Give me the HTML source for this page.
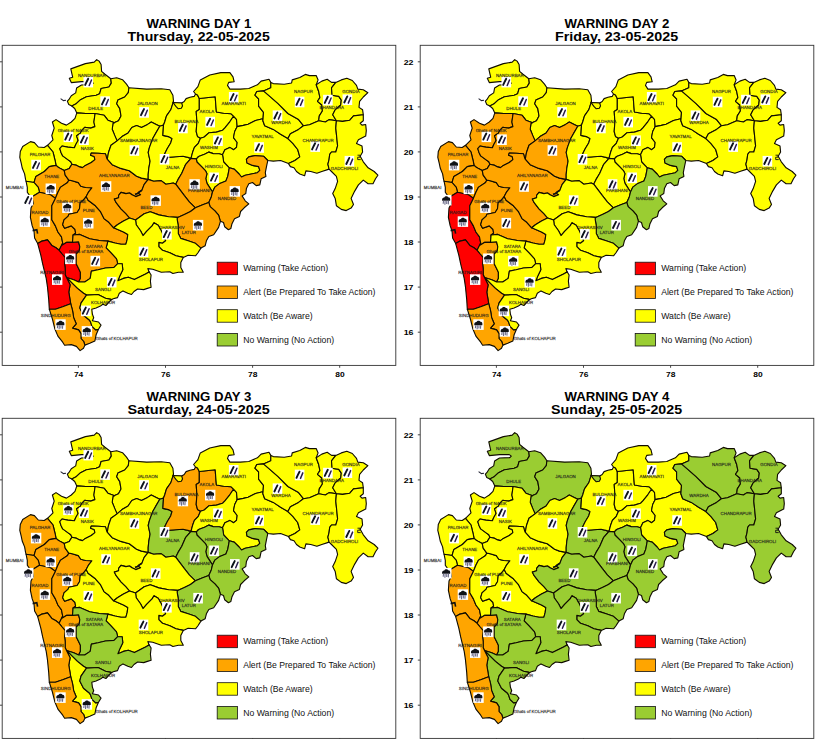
<!DOCTYPE html>
<html><head><meta charset="utf-8"><title>Warnings</title>
<style>
html,body{margin:0;padding:0;background:#fff;}
body{width:819px;height:739px;overflow:hidden;font-family:"Liberation Sans",sans-serif;}
svg{display:block;}
text{font-family:"Liberation Sans",sans-serif;}
.t{font-weight:bold;font-size:12.3px;fill:#000;text-anchor:middle;}
.tk{font-weight:bold;font-size:7.4px;fill:#000;}
.lg{font-size:8.3px;fill:#111;}
.lb{text-rendering:geometricPrecision;font-size:4.4px;fill:#1c1c1c;fill-opacity:.9;stroke:#1c1c1c;stroke-width:.28;stroke-opacity:.6;text-anchor:middle;}
.d{stroke:#100c00;stroke-width:1.12;stroke-linejoin:round;}
.ax{fill:none;stroke:#333;stroke-width:.9;}
</style></head><body>
<svg width="819" height="739" viewBox="0 0 819 739">
<defs>
<path id="NDB" d="M71.8,106.0 68.8,104.6 67.4,101.2 68.8,99.7 71.3,95.8 75.7,92.9 76.6,88.0 81.5,85.0 91.8,84.6 93.3,83.1 91.3,81.6 81.5,81.6 71.3,82.6 69.3,78.2 72.7,77.2 71.8,73.3 70.8,68.9 85.4,63.6 94.2,62.1 96.7,59.6 99.1,61.1 101.1,64.5 101.6,71.4 105.0,74.3 110.8,78.7 111.3,83.1 108.9,87.0 101.1,88.5 99.6,93.8 96.2,95.3 86.4,96.8 80.6,99.7 75.7,104.1Z"/>
<path id="DHL" d="M71.8,106.0 75.7,104.1 80.6,99.7 86.4,96.8 96.2,95.3 99.6,93.8 101.1,88.5 108.9,87.0 111.3,83.1 110.8,78.7 116.7,77.7 122.5,79.7 126.5,84.1 128.9,87.8 128.3,92.7 124.7,97.0 117.9,100.1 116.7,103.7 119.8,108.6 121.0,115.9 118.5,120.8 113.0,123.3 114.6,122.7 107.9,120.2 104.2,115.3 95.1,113.5 85.9,113.5 76.8,112.9 74.7,108.5Z"/>
<path id="JLG" d="M128.9,87.8 146.6,89.1 161.3,88.8 169.8,89.7 172.9,95.2 173.5,101.3 170.8,109.8 166.5,115.9 164.7,122.0 163.5,125.0 159.8,126.2 156.2,124.4 151.3,122.0 147.6,124.4 141.5,127.5 136.6,125.6 131.8,127.5 128.1,133.0 122.0,136.6 117.1,140.9 114.7,135.4 112.2,129.3 113.0,123.3 118.5,120.8 121.0,115.9 119.8,108.6 116.7,103.7 117.9,100.1 124.7,97.0 128.3,92.7Z"/>
<path id="GNSK" d="M47.5,145.3 53.0,139.8 51.8,135.5 54.2,128.1 52.4,122.0 56.0,119.6 61.5,123.3 66.4,125.1 71.3,122.0 75.0,118.4 76.8,112.9 85.9,113.5 95.1,113.5 93.9,122.0 94.9,126.6 90.5,128.1 84.7,127.3 81.8,130.3 80.3,133.2 76.6,135.8 78.1,140.5 75.9,144.2 74.4,147.8 67.8,147.1 62.0,146.0 59.8,148.6 60.9,152.2 62.7,155.9 67.8,159.6 70.8,161.8 71.9,164.3 69.3,168.4 64.2,170.4 60.5,168.6 58.3,167.2 56.0,165.4 55.4,161.8 53.0,152.0Z"/>
<path id="NSK" d="M95.1,113.5 104.2,115.3 107.9,120.2 114.6,122.7 113.0,123.3 112.2,129.3 114.7,135.4 117.1,140.9 111.0,145.2 108.5,152.5 107.3,159.2 106.7,158.1 105.5,153.8 98.1,153.2 91.3,153.0 90.5,155.2 94.2,156.6 94.9,159.6 91.3,162.5 85.4,165.4 82.5,167.6 79.6,166.9 75.9,165.1 71.9,164.3 70.8,161.8 67.8,159.6 62.7,155.9 60.9,152.2 59.8,148.6 62.0,146.0 67.8,147.1 74.4,147.8 75.9,144.2 78.1,140.5 76.6,135.8 80.3,133.2 81.8,130.3 84.7,127.3 90.5,128.1 94.9,126.6 93.9,122.0Z"/>
<path id="PLG" d="M26.1,181.3 25.6,179.7 24.6,173.9 22.2,168.0 21.2,163.1 19.8,157.3 20.3,151.4 22.7,146.5 30.5,141.6 34.4,142.6 38.3,147.0 44.2,147.5 47.5,145.3 53.0,152.0 55.4,161.8 56.0,165.4 49.3,166.6 44.4,171.5 35.9,176.4 34.0,182.5Z"/>
<path id="THN" d="M34.0,182.5 35.9,176.4 44.4,171.5 49.3,166.6 56.0,165.4 58.3,167.2 60.5,168.6 64.2,170.4 65.2,175.2 68.8,180.1 67.6,182.5 60.3,187.4 57.9,192.3 55.4,198.4 50.5,194.7 39.5,192.3 38.3,187.4Z"/>
<path id="MUM" d="M31.6,196.5 29.8,195.9 27.3,192.3 27.3,187.4 26.1,181.3 34.0,182.5 38.3,187.4 39.5,192.3 33.4,195.9Z"/>
<path id="RGD" d="M37.7,243.6 34.6,238.1 34.0,230.8 32.2,225.9 30.4,217.3 31.0,208.1 33.4,203.3 32.2,198.4 31.6,196.5 33.4,195.9 39.5,192.3 50.5,194.7 55.4,198.4 51.8,205.7 51.8,219.8 55.4,225.9 57.9,232.0 61.5,236.9 62.7,243.0 61.5,245.4 59.1,250.3 56.0,247.8 51.8,245.4 47.5,239.9 42.0,241.1Z"/>
<path id="GPUN" d="M55.4,198.4 57.9,192.3 60.3,187.4 67.6,182.5 68.8,180.1 72.2,180.8 78.3,182.6 80.8,186.2 85.6,187.5 91.8,187.8 88.7,191.8 86.2,196.6 83.2,200.3 80.2,202.7 79.5,208.8 77.1,212.5 68.8,214.2 68.2,216.1 64.0,219.8 62.7,224.7 64.6,228.3 71.3,225.9 75.0,229.5 75.6,233.2 73.1,235.0 72.5,242.4 66.4,242.4 61.5,245.4 62.7,243.0 61.5,236.9 57.9,232.0 55.4,225.9 51.8,219.8 51.8,205.7Z"/>
<path id="PUN" d="M73.1,235.0 75.6,233.2 75.0,229.5 71.3,225.9 64.6,228.3 62.7,224.7 64.0,219.8 68.2,216.1 68.8,214.2 77.1,212.5 79.5,208.8 80.2,202.7 83.2,200.3 86.2,196.6 88.1,200.3 95.4,205.8 100.3,211.3 104.0,218.6 108.8,222.3 113.7,227.8 123.5,232.0 127.8,234.5 127.2,239.4 125.9,244.2 121.0,244.2 115.0,243.0 107.9,241.1 99.4,240.5 89.6,238.7 79.8,234.4Z"/>
<path id="AHM" d="M64.2,170.4 69.3,168.4 71.9,164.3 75.9,165.1 79.6,166.9 82.5,167.6 85.4,165.4 91.3,162.5 94.9,159.6 94.2,156.6 90.5,155.2 91.3,153.0 98.1,153.2 105.5,153.8 106.7,158.1 107.3,159.2 112.2,164.7 120.8,168.4 129.3,170.8 136.6,176.3 141.5,178.1 148.2,179.4 144.2,184.4 141.8,190.5 138.1,193.0 140.6,194.8 135.7,196.6 132.0,194.8 129.6,193.0 125.9,193.6 121.0,192.4 118.6,195.4 118.6,197.8 114.3,199.1 116.2,202.7 121.0,208.8 125.9,213.7 129.6,218.0 123.5,221.1 117.4,224.7 113.7,227.8 108.8,222.3 104.0,218.6 100.3,211.3 95.4,205.8 88.1,200.3 86.2,196.6 88.7,191.8 91.8,187.8 85.6,187.5 80.8,186.2 78.3,182.6 72.2,180.8 68.8,180.1 65.2,175.2Z"/>
<path id="SMB" d="M107.3,159.2 108.5,152.5 111.0,145.2 117.1,140.9 122.0,136.6 128.1,133.0 131.8,127.5 136.6,125.6 141.5,127.5 147.6,124.4 151.3,122.0 156.2,124.4 159.8,126.2 156.2,132.4 152.5,139.1 149.4,147.6 148.2,152.5 150.1,161.1 148.8,168.4 148.2,174.5 148.2,179.4 141.5,178.1 136.6,176.3 129.3,170.8 120.8,168.4 112.2,164.7Z"/>
<path id="JLN" d="M148.2,179.4 148.2,174.5 148.8,168.4 150.1,161.1 148.2,152.5 149.4,147.6 152.5,139.1 156.2,132.4 159.8,126.2 163.5,125.0 162.9,135.4 168.4,136.6 172.0,138.5 170.8,142.7 167.2,148.8 164.7,153.7 168.4,157.4 175.7,156.8 183.0,156.2 187.9,157.4 191.0,158.4 185.5,164.7 181.8,173.3 178.1,179.4 175.7,184.2 173.3,183.0 165.9,184.2 161.1,180.6 153.7,181.2Z"/>
<path id="BLD" d="M173.5,101.3 173.0,102.5 177.4,102.8 181.7,103.0 184.2,101.5 186.1,98.6 190.0,97.3 194.2,96.4 195.5,94.0 197.5,94.9 199.3,98.5 199.3,109.5 196.2,111.4 196.9,121.8 196.2,131.5 197.5,136.4 200.5,138.2 198.1,143.7 194.4,147.4 192.6,152.3 191.0,158.4 187.9,157.4 183.0,156.2 175.7,156.8 168.4,157.4 164.7,153.7 167.2,148.8 170.8,142.7 172.0,138.5 168.4,136.6 162.9,135.4 163.5,125.0 164.7,122.0 166.5,115.9 170.8,109.8Z"/>
<path id="AKL" d="M200.5,138.2 197.5,136.4 196.2,131.5 196.9,121.8 196.2,111.4 199.3,109.5 199.3,98.5 215.2,96.7 215.8,104.7 216.4,112.0 223.7,113.2 231.1,113.8 233.5,116.2 229.8,121.8 224.9,127.8 222.5,130.3 216.4,132.1 209.1,132.7 204.2,137.0Z"/>
<path id="WSM" d="M200.5,138.2 204.2,137.0 209.1,132.7 216.4,132.1 222.5,130.3 224.9,127.8 229.8,121.8 233.5,116.2 236.5,119.3 237.2,126.6 234.7,131.5 233.5,137.6 237.2,142.5 236.5,147.4 233.5,149.8 229.8,147.4 224.9,149.8 222.5,154.7 219.1,153.8 213.3,153.6 208.9,152.1 204.5,154.3 198.6,156.5 196.4,158.9 191.0,158.4 192.6,152.3 194.4,147.4 198.1,143.7Z"/>
<path id="AMR" d="M195.5,94.0 193.6,91.5 197.9,86.6 200.3,79.9 209.8,75.0 220.8,72.6 229.9,72.6 233.0,76.9 234.2,81.8 228.7,82.4 227.5,85.4 229.9,89.1 240.3,89.1 248.8,88.5 257.4,84.8 261.1,81.1 269.0,79.3 270.8,82.4 270.8,87.8 263.5,90.9 256.8,91.5 254.9,95.2 258.6,98.8 258.6,106.2 263.5,112.3 262.9,120.8 262.8,118.7 255.5,120.5 248.1,124.2 243.3,125.4 237.2,126.6 236.5,119.3 233.5,116.2 231.1,113.8 223.7,113.2 216.4,112.0 215.8,104.7 215.2,96.7 199.3,98.5 197.5,94.9Z"/>
<path id="YVT" d="M237.2,126.6 243.3,125.4 248.1,124.2 255.5,120.5 262.8,118.7 262.9,120.8 264.7,125.7 273.3,129.4 280.6,134.2 287.9,138.6 292.8,143.4 297.7,149.5 299.8,156.9 294.9,160.5 288.5,163.6 280.6,160.5 273.3,161.1 267.8,160.5 263.5,156.2 254.9,155.6 248.8,156.9 246.4,159.3 247.0,163.0 252.5,165.4 258.6,166.6 259.8,170.3 257.4,172.7 251.3,174.0 245.2,175.2 241.5,177.0 239.1,174.0 234.2,169.1 229.3,167.8 223.7,162.0 222.5,154.7 224.9,149.8 229.8,147.4 233.5,149.8 236.5,147.4 237.2,142.5 233.5,137.6 234.7,131.5Z"/>
<path id="WRD" d="M262.9,120.8 263.5,112.3 258.6,106.2 258.6,98.8 254.9,95.2 256.8,91.5 263.5,90.9 268.4,95.2 278.1,103.7 287.9,113.5 298.6,119.6 303.4,125.7 298.6,129.4 290.4,133.7 287.9,138.6 280.6,134.2 273.3,129.4 264.7,125.7Z"/>
<path id="NGP" d="M270.8,82.4 273.3,83.6 284.2,84.2 291.6,83.0 292.2,79.9 299.8,77.5 305.3,74.4 309.5,75.6 316.2,75.6 318.1,79.9 316.2,84.8 318.7,91.5 319.9,97.6 317.5,101.3 321.8,105.0 322.4,111.0 319.3,115.9 318.7,120.8 309.5,124.7 303.4,125.7 298.6,119.6 287.9,113.5 278.1,103.7 268.4,95.2 263.5,90.9 270.8,87.8Z"/>
<path id="BHN" d="M316.2,84.8 321.8,81.1 327.2,79.3 331.5,82.4 335.8,82.4 331.5,87.8 332.1,95.2 338.8,96.4 341.3,100.1 340.7,105.0 335.2,109.8 332.7,114.7 336.4,120.8 329.1,119.6 325.4,122.0 318.7,120.8 319.3,115.9 322.4,111.0 321.8,105.0 317.5,101.3 319.9,97.6 318.7,91.5Z"/>
<path id="GND" d="M335.8,82.4 341.3,79.9 346.8,78.3 352.3,80.5 356.5,85.4 357.8,89.1 363.3,89.7 367.9,92.7 363.3,97.0 359.6,101.3 359.0,107.4 362.6,109.8 363.3,114.7 353.5,115.9 349.8,120.2 342.5,121.4 336.4,120.8 332.7,114.7 335.2,109.8 340.7,105.0 341.3,100.1 338.8,96.4 332.1,95.2 331.5,87.8Z"/>
<path id="CHN" d="M287.9,138.6 290.4,133.7 298.6,129.4 303.4,125.7 309.5,124.7 318.7,120.8 325.4,122.0 329.1,119.6 336.4,120.8 335.8,128.1 337.0,139.8 337.6,145.9 335.8,152.0 331.5,152.0 329.7,154.4 329.1,159.3 327.9,164.2 329.1,169.1 321.8,171.5 316.9,173.3 310.8,171.5 305.9,170.9 304.6,175.8 299.8,174.0 296.5,171.5 294.0,167.8 290.4,166.6 288.5,163.6 294.9,160.5 299.8,156.9 297.7,149.5 292.8,143.4Z"/>
<path id="GDC" d="M363.3,114.7 363.3,120.8 360.2,123.3 362.0,125.1 365.7,124.5 366.3,130.6 365.7,136.1 358.4,139.8 356.5,143.4 362.0,145.9 362.6,152.0 360.2,156.2 363.3,161.8 368.1,167.8 374.2,171.5 377.9,175.2 375.5,178.8 373.0,183.7 368.1,183.7 363.3,180.1 358.4,184.9 354.7,191.1 351.1,198.4 353.5,204.5 351.1,208.1 346.2,210.6 341.3,209.4 336.4,205.7 335.2,198.4 332.7,193.5 335.2,188.6 337.6,181.3 336.4,176.4 331.5,171.5 329.1,169.1 327.9,164.2 329.1,159.3 329.7,154.4 331.5,152.0 335.8,152.0 337.6,145.9 337.0,139.8 335.8,128.1 336.4,120.8 342.5,121.4 349.8,120.2 353.5,115.9Z"/>
<path id="HNG" d="M196.4,158.9 198.6,156.5 204.5,154.3 208.9,152.1 213.3,153.6 219.1,153.8 222.5,154.7 223.7,162.0 229.3,167.8 227.8,176.1 225.9,181.0 219.8,183.4 214.9,187.1 212.5,192.0 209.4,187.1 207.0,183.4 205.8,178.6 207.0,173.7 205.4,170.6 201.8,166.9 196.9,162.0Z"/>
<path id="PRB" d="M196.4,158.9 196.9,162.0 201.8,166.9 205.4,170.6 207.0,173.7 205.8,178.6 207.0,183.4 209.4,187.1 212.5,192.0 211.3,196.9 208.8,202.4 202.7,204.8 195.4,207.8 189.3,201.8 184.4,195.6 180.8,190.8 175.7,184.2 178.1,179.4 181.8,173.3 185.5,164.7 191.0,158.4Z"/>
<path id="NND" d="M229.3,167.8 234.2,169.1 239.1,174.0 241.5,177.0 245.2,175.2 251.3,174.0 257.4,172.7 259.8,170.3 258.6,166.6 252.5,165.4 247.0,163.0 246.4,159.3 248.8,156.9 254.9,155.6 263.5,156.2 267.8,160.5 266.5,166.6 265.3,172.7 265.9,176.4 261.1,178.8 259.8,184.9 256.2,185.6 252.5,182.5 248.8,183.7 246.4,188.6 245.8,193.5 242.1,195.9 245.2,200.8 248.8,203.9 244.2,207.8 240.6,211.5 239.4,216.4 234.5,218.8 232.0,223.7 230.8,228.6 228.4,229.8 224.7,226.8 223.5,222.5 220.4,221.3 218.6,215.2 214.9,210.9 210.1,206.6 208.8,202.4 211.3,196.9 212.5,192.0 214.9,187.1 219.8,183.4 225.9,181.0 227.8,176.1Z"/>
<path id="BED" d="M129.6,218.0 125.9,213.7 121.0,208.8 116.2,202.7 114.3,199.1 118.6,197.8 118.6,195.4 121.0,192.4 125.9,193.6 129.6,193.0 132.0,194.8 135.7,196.6 140.6,194.8 138.1,193.0 141.8,190.5 144.2,184.4 148.2,179.4 153.7,181.2 161.1,180.6 165.9,184.2 173.3,183.0 175.7,184.2 180.8,190.8 184.4,195.6 189.3,201.8 195.4,207.8 190.5,211.5 184.4,214.6 177.7,217.4 168.6,216.7 158.8,214.9 150.3,211.8 144.2,213.7 135.6,220.0Z"/>
<path id="LTR" d="M177.7,217.4 184.4,214.6 190.5,211.5 195.4,207.8 202.7,204.8 208.8,202.4 210.1,206.6 214.9,210.9 218.6,215.2 220.4,221.3 218.6,227.4 213.7,234.7 208.8,236.5 206.4,240.8 205.2,245.7 200.9,248.1 195.4,243.3 188.1,240.8 180.8,238.4 178.3,233.5 178.3,226.2 177.1,218.8Z"/>
<path id="DHR" d="M135.6,220.0 144.2,213.7 150.3,211.8 158.8,214.9 168.6,216.7 177.7,217.4 177.1,218.8 178.3,226.2 178.3,233.5 180.8,238.4 188.1,240.8 195.4,243.3 200.9,248.1 197.8,253.0 195.5,255.8 188.1,255.2 183.3,257.4 175.9,255.8 169.8,252.7 162.5,250.3 158.8,246.6 158.8,242.4 162.5,243.0 165.6,240.5 161.3,230.8 158.2,225.3 154.0,222.8 152.1,225.9 146.6,231.4 143.0,235.6 140.5,230.8 136.2,224.7Z"/>
<path id="SLP" d="M113.7,227.8 117.4,224.7 123.5,221.1 129.6,218.0 135.6,220.0 136.2,224.7 140.5,230.8 143.0,235.6 146.6,231.4 152.1,225.9 154.0,222.8 158.2,225.3 161.3,230.8 165.6,240.5 162.5,243.0 158.8,242.4 158.8,246.6 162.5,250.3 169.8,252.7 175.9,255.8 183.3,257.4 180.8,262.5 180.8,267.4 183.3,272.3 178.4,272.3 172.9,273.5 169.8,271.7 161.3,272.3 152.7,269.2 147.8,268.6 149.1,271.7 146.6,273.5 140.5,276.5 134.4,279.6 128.3,277.2 123.4,278.4 117.9,280.8 119.8,275.9 122.8,269.8 122.2,263.7 117.7,263.7 116.5,258.8 110.3,252.1 106.1,247.8 107.9,241.1 115.0,243.0 121.0,244.2 125.9,244.2 127.2,239.4 127.8,234.5 123.5,232.0Z"/>
<path id="GSTR" d="M59.1,250.3 61.5,245.4 66.4,242.4 72.5,242.4 78.6,241.8 79.8,246.6 79.2,250.9 76.2,254.0 76.2,263.7 78.6,268.6 80.4,272.3 80.4,278.4 78.6,282.0 73.7,279.8 66.5,277.5 65.2,274.7 65.2,268.6 64.6,263.7 65.2,257.6 62.1,254.0Z"/>
<path id="STR" d="M73.1,235.0 72.5,242.4 73.1,235.0 79.8,234.4 89.6,238.7 99.4,240.5 107.9,241.1 106.1,247.8 110.3,252.1 116.5,258.8 117.7,263.7 114.0,267.4 105.5,268.0 98.1,269.8 91.4,271.1 90.2,278.4 84.7,282.0 78.6,282.0 80.4,278.4 80.4,272.3 78.6,268.6 76.2,263.7 76.2,254.0 79.2,250.9 79.8,246.6 78.6,241.8 72.5,242.4Z"/>
<path id="SNG" d="M66.5,277.5 73.7,279.8 78.6,282.0 84.7,282.0 90.2,278.4 91.4,271.1 98.1,269.8 105.5,268.0 114.0,267.4 117.7,263.7 122.2,263.7 122.8,269.8 119.8,275.9 117.9,280.8 123.4,278.4 128.3,277.2 134.4,279.6 140.5,276.5 146.6,273.5 149.1,271.7 151.1,275.0 150.4,281.1 151.1,287.2 147.4,288.4 143.7,289.6 137.6,289.0 134.0,291.5 131.5,294.5 127.8,293.3 123.0,290.9 119.3,293.3 117.5,297.6 113.2,298.8 111.0,300.0 111.0,299.4 105.5,298.2 98.1,294.5 86.5,295.1 83.5,293.3 77.4,288.4 71.3,282.3Z"/>
<path id="GKLP" d="M66.5,277.5 71.3,282.3 77.4,288.4 83.5,293.3 86.5,295.1 81.0,303.1 79.8,308.0 83.5,315.3 89.6,320.2 90.8,322.6 92.0,326.3 95.7,329.9 98.5,329.3 96.1,334.8 94.9,340.9 90.8,342.8 89.8,343.3 84.9,345.1 83.7,341.5 81.0,338.5 81.0,333.6 78.6,329.9 72.5,328.1 76.2,323.8 73.7,317.7 72.5,310.4 70.7,303.7 68.8,292.1 70.1,284.8Z"/>
<path id="KLP" d="M86.5,295.1 98.1,294.5 105.5,298.2 111.0,299.4 111.0,300.0 105.9,305.5 102.8,304.3 100.4,306.1 96.1,308.0 91.8,309.2 92.4,314.1 93.7,317.7 92.4,320.8 98.5,322.0 101.0,325.1 98.5,329.3 95.7,329.9 92.0,326.3 90.8,322.6 89.6,320.2 83.5,315.3 79.8,308.0 81.0,303.1Z"/>
<path id="RTN" d="M49.3,309.2 48.7,299.4 47.5,287.2 46.2,278.4 44.4,271.1 42.6,263.7 40.8,255.2 37.7,243.6 42.0,241.1 47.5,239.9 51.8,245.4 56.0,247.8 59.1,250.3 62.1,254.0 65.2,257.6 64.6,263.7 65.2,268.6 65.2,274.7 66.5,277.5 70.1,284.8 68.8,292.1 70.7,303.7 62.7,306.8 55.4,309.2Z"/>
<path id="SND" d="M84.9,345.1 83.5,348.3 80.1,350.6 76.4,346.4 71.3,344.6 64.6,345.2 62.7,342.2 57.9,336.1 54.8,328.7 52.4,319.0 49.3,309.2 55.4,309.2 62.7,306.8 70.7,303.7 72.5,310.4 73.7,317.7 76.2,323.8 72.5,328.1 78.6,329.9 81.0,333.6 81.0,338.5 83.7,341.5Z"/>
<path id="JLG2" d="M173.0,102.5 177.4,102.8 181.7,103.0 182.5,105.9 181.3,108.3 178.3,108.8 175.9,106.4Z"/>
<g id="iL"><rect x="-4.8" y="-5.3" width="9.6" height="10.6" fill="#fff"/><path d="M-0.1,-3.3L-1.6,-0.4L-3.1,2.8" stroke="#0c1218" stroke-width="1.9" stroke-linecap="round" fill="none"/><path d="M3.2,-2.1L0.9,3.4" stroke="#2a1c4c" stroke-width="1.5" stroke-linecap="round" fill="none"/></g>
<g id="iC"><rect x="-5.2" y="-5.3" width="10.4" height="10.6" fill="#fff"/><path d="M-4.2,0.6C-4.6,-1.6 -3.1,-2.8 -2.0,-2.6C-1.5,-4.2 1.2,-4.4 1.9,-2.8C3.5,-3.1 4.3,-1.3 3.8,0.6Z" fill="#101216"/><path d="M-2.8,0.6L-3.1,3.6M-1.2,0.6L-1.4,4.6M0.5,0.6L0.4,3.8M2.2,0.6L2,4.2" stroke="#6a6a88" stroke-width="1.1" fill="none"/></g>
</defs>
<rect width="819" height="739" fill="#fff"/>
<g transform="translate(0,0)">
<g class="d">
<use href="#NDB" fill="#ffff00"/>
<use href="#DHL" fill="#ffff00"/>
<use href="#JLG" fill="#ffff00"/>
<use href="#GNSK" fill="#ffff00"/>
<use href="#NSK" fill="#ffff00"/>
<use href="#PLG" fill="#ffff00"/>
<use href="#THN" fill="#ffa500"/>
<use href="#MUM" fill="#ffff00"/>
<use href="#RGD" fill="#ffa500"/>
<use href="#GPUN" fill="#ffa500"/>
<use href="#PUN" fill="#ffa500"/>
<use href="#AHM" fill="#ffa500"/>
<use href="#SMB" fill="#ffff00"/>
<use href="#JLN" fill="#ffff00"/>
<use href="#BLD" fill="#ffff00"/>
<use href="#AKL" fill="#ffff00"/>
<use href="#WSM" fill="#ffff00"/>
<use href="#AMR" fill="#ffff00"/>
<use href="#YVT" fill="#ffff00"/>
<use href="#WRD" fill="#ffff00"/>
<use href="#NGP" fill="#ffff00"/>
<use href="#BHN" fill="#ffff00"/>
<use href="#GND" fill="#ffff00"/>
<use href="#CHN" fill="#ffff00"/>
<use href="#GDC" fill="#ffff00"/>
<use href="#HNG" fill="#ffff00"/>
<use href="#PRB" fill="#ffa500"/>
<use href="#NND" fill="#ffa500"/>
<use href="#BED" fill="#ffa500"/>
<use href="#LTR" fill="#ffa500"/>
<use href="#DHR" fill="#ffff00"/>
<use href="#SLP" fill="#ffff00"/>
<use href="#GSTR" fill="#ff0000"/>
<use href="#STR" fill="#ffa500"/>
<use href="#SNG" fill="#ffff00"/>
<use href="#GKLP" fill="#ffa500"/>
<use href="#KLP" fill="#ffff00"/>
<use href="#RTN" fill="#ff0000"/>
<use href="#SND" fill="#ffa500"/>
<use href="#JLG2" fill="#ffff00"/>
</g>
<path d="M60.6,98.6L63.5,100.6L66,100.2" stroke="#223" stroke-width="1.1" fill="none"/>
<path d="M357.5,155.2h2.6v2h-2.4v2.4h3" stroke="#111" stroke-width=".9" fill="none"/>
<path d="M32.6,230.6L36.8,229.6L37.6,233.6" stroke="#111" stroke-width="1.6" fill="none"/>
<path d="M141.6,190.4L139.2,191.9L137.6,193.6L135,194.4" stroke="#111" stroke-width="1.7" fill="none"/>
<use href="#iL" x="88.3" y="82.1"/>
<use href="#iL" x="105.1" y="101.6"/>
<use href="#iL" x="144.1" y="112.4"/>
<use href="#iL" x="68.4" y="136.8"/>
<use href="#iL" x="84" y="139.7"/>
<use href="#iL" x="36.1" y="165.1"/>
<use href="#iC" x="50.8" y="188.8"/>
<use href="#iL" x="28.3" y="200.2"/>
<use href="#iC" x="44.9" y="221.6"/>
<use href="#iC" x="67.4" y="207.6"/>
<use href="#iC" x="88.3" y="223.2"/>
<use href="#iC" x="106.1" y="186.5"/>
<use href="#iL" x="134.4" y="150.5"/>
<use href="#iL" x="164.5" y="159.3"/>
<use href="#iL" x="182.9" y="128"/>
<use href="#iL" x="210.2" y="122.1"/>
<use href="#iL" x="218" y="140.7"/>
<use href="#iL" x="233.7" y="97.3"/>
<use href="#iL" x="259.1" y="147.5"/>
<use href="#iL" x="277.5" y="115.7"/>
<use href="#iL" x="299.6" y="102"/>
<use href="#iL" x="327.9" y="100.1"/>
<use href="#iL" x="347.4" y="99.7"/>
<use href="#iL" x="315.2" y="146.6"/>
<use href="#iL" x="349.4" y="161.2"/>
<use href="#iL" x="214.1" y="177.8"/>
<use href="#iC" x="194.6" y="184.5"/>
<use href="#iC" x="234.8" y="191.4"/>
<use href="#iC" x="155.7" y="200.6"/>
<use href="#iC" x="198.1" y="225.2"/>
<use href="#iL" x="166.9" y="234.3"/>
<use href="#iL" x="143.5" y="251.9"/>
<use href="#iC" x="70.3" y="258.8"/>
<use href="#iL" x="95.3" y="261.1"/>
<use href="#iL" x="111.7" y="282.2"/>
<use href="#iC" x="86.9" y="331.4"/>
<use href="#iL" x="85.9" y="310.9"/>
<use href="#iC" x="57.2" y="279.6"/>
<use href="#iC" x="60.5" y="324.6"/>
<text class="lb" x="91.8" y="76.8">NANDURBAR</text>
<text class="lb" x="95.7" y="110.0">DHULE</text>
<text class="lb" x="147.5" y="104.5">JALGAON</text>
<text class="lb" x="73.2" y="131.9">Ghats of NASIK</text>
<text class="lb" x="87.3" y="150.0">NASIK</text>
<text class="lb" x="40" y="155.9">PALGHAR</text>
<text class="lb" x="51.8" y="178.3">THANE</text>
<text class="lb" x="138.7" y="141.8">SAMBHAJINAGAR</text>
<text class="lb" x="114.3" y="177.0">AHILYANAGAR</text>
<text class="lb" x="186.4" y="123.3">BULDHANA</text>
<text class="lb" x="206.9" y="112.9">AKOLA</text>
<text class="lb" x="233.7" y="104.7">AMARAVATI</text>
<text class="lb" x="208.9" y="149.0">WASHIM</text>
<text class="lb" x="172.7" y="168.6">JALNA</text>
<text class="lb" x="213.8" y="168.0">HINGOLI</text>
<text class="lb" x="262.6" y="137.9">YAVATMAL</text>
<text class="lb" x="281" y="124.2">WARDHA</text>
<text class="lb" x="303.5" y="93.4">NAGPUR</text>
<text class="lb" x="331.8" y="109.4">BHANDARA</text>
<text class="lb" x="350.9" y="92.8">GONDIA</text>
<text class="lb" x="318.1" y="141.6">CHANDRAPUR</text>
<text class="lb" x="344.5" y="169.9">GADCHIROLI</text>
<text class="lb" x="14.6" y="189.0">MUMBAI</text>
<text class="lb" x="71.3" y="202.6">Ghats of PUNE</text>
<text class="lb" x="88.9" y="211.8">PUNE</text>
<text class="lb" x="40" y="214.0">RAIGAD</text>
<text class="lb" x="146.4" y="209.1">BEED</text>
<text class="lb" x="199.1" y="192.3">PARBHANI</text>
<text class="lb" x="227" y="200.1">NANDED</text>
<text class="lb" x="171.8" y="228.6">DHARASHIV</text>
<text class="lb" x="188.8" y="233.9">LATUR</text>
<text class="lb" x="150.9" y="260.6">SHOLAPUR</text>
<text class="lb" x="94.3" y="248.1">SATARA</text>
<text class="lb" x="85.9" y="253.4">Ghats of SATARA</text>
<text class="lb" x="52" y="273.5">RATNAGIRI</text>
<text class="lb" x="103.1" y="290.6">SANGLI</text>
<text class="lb" x="103.1" y="304.0">KOLHAPUR</text>
<text class="lb" x="55.7" y="317.3">SINDHUDURG</text>
<text class="lb" x="116.8" y="339.8">Ghats of KOLHAPUR</text>
<rect class="ax" x="2.2" y="45.3" width="393.6" height="320.09999999999997"/>
<path class="ax" d="M78.4,365.4v2.4M165.5,365.4v2.4M252.6,365.4v2.4M339.7,365.4v2.4M2.2,332.2h-2.4M2.2,287.1h-2.4M2.2,242.0h-2.4M2.2,197.0h-2.4M2.2,151.9h-2.4M2.2,106.9h-2.4M2.2,61.8h-2.4"/>
<text class="tk" text-anchor="middle" x="78.6" y="377" textLength="9.4" lengthAdjust="spacingAndGlyphs">74</text>
<text class="tk" text-anchor="middle" x="165.7" y="377" textLength="9.4" lengthAdjust="spacingAndGlyphs">76</text>
<text class="tk" text-anchor="middle" x="252.8" y="377" textLength="9.4" lengthAdjust="spacingAndGlyphs">78</text>
<text class="tk" text-anchor="middle" x="339.9" y="377" textLength="9.4" lengthAdjust="spacingAndGlyphs">80</text>
<text class="tk" text-anchor="end" x="-4.5" y="334.9" textLength="9.8" lengthAdjust="spacingAndGlyphs">16</text>
<text class="tk" text-anchor="end" x="-4.5" y="289.8" textLength="9.8" lengthAdjust="spacingAndGlyphs">17</text>
<text class="tk" text-anchor="end" x="-4.5" y="244.7" textLength="9.8" lengthAdjust="spacingAndGlyphs">18</text>
<text class="tk" text-anchor="end" x="-4.5" y="199.7" textLength="9.8" lengthAdjust="spacingAndGlyphs">19</text>
<text class="tk" text-anchor="end" x="-4.5" y="154.6" textLength="9.8" lengthAdjust="spacingAndGlyphs">20</text>
<text class="tk" text-anchor="end" x="-4.5" y="109.6" textLength="9.8" lengthAdjust="spacingAndGlyphs">21</text>
<text class="tk" text-anchor="end" x="-4.5" y="64.5" textLength="9.8" lengthAdjust="spacingAndGlyphs">22</text>
<text class="t" x="198.9" y="27.7" textLength="105" lengthAdjust="spacingAndGlyphs">WARNING DAY 1</text>
<text class="t" x="198.6" y="40.8" textLength="142.3" lengthAdjust="spacingAndGlyphs">Thursday, 22-05-2025</text>
<rect x="217.2" y="262.2" width="20.2" height="12.5" fill="#ff0000" stroke="#111" stroke-width=".8"/>
<text class="lg" x="243.2" y="271.4" textLength="85" lengthAdjust="spacingAndGlyphs">Warning (Take Action)</text>
<rect x="217.2" y="286.0" width="20.2" height="12.5" fill="#ffa500" stroke="#111" stroke-width=".8"/>
<text class="lg" x="243.2" y="295.2" textLength="132.3" lengthAdjust="spacingAndGlyphs">Alert (Be Prepared To Take Action)</text>
<rect x="217.2" y="309.7" width="20.2" height="12.5" fill="#ffff00" stroke="#111" stroke-width=".8"/>
<text class="lg" x="243.2" y="318.9" textLength="69.5" lengthAdjust="spacingAndGlyphs">Watch (Be Aware)</text>
<rect x="217.2" y="333.5" width="20.2" height="12.5" fill="#9acd32" stroke="#111" stroke-width=".8"/>
<text class="lg" x="243.2" y="342.7" textLength="91" lengthAdjust="spacingAndGlyphs">No Warning (No Action)</text>
</g>
<g transform="translate(418,0)">
<g class="d">
<use href="#NDB" fill="#ffff00"/>
<use href="#DHL" fill="#ffff00"/>
<use href="#JLG" fill="#ffff00"/>
<use href="#GNSK" fill="#ffa500"/>
<use href="#NSK" fill="#ffa500"/>
<use href="#PLG" fill="#ffa500"/>
<use href="#THN" fill="#ffa500"/>
<use href="#MUM" fill="#ffa500"/>
<use href="#RGD" fill="#ff0000"/>
<use href="#GPUN" fill="#ffa500"/>
<use href="#PUN" fill="#ffa500"/>
<use href="#AHM" fill="#ffa500"/>
<use href="#SMB" fill="#ffa500"/>
<use href="#JLN" fill="#ffff00"/>
<use href="#BLD" fill="#ffff00"/>
<use href="#AKL" fill="#ffff00"/>
<use href="#WSM" fill="#ffff00"/>
<use href="#AMR" fill="#ffff00"/>
<use href="#YVT" fill="#ffff00"/>
<use href="#WRD" fill="#ffff00"/>
<use href="#NGP" fill="#ffff00"/>
<use href="#BHN" fill="#ffff00"/>
<use href="#GND" fill="#ffff00"/>
<use href="#CHN" fill="#ffff00"/>
<use href="#GDC" fill="#ffff00"/>
<use href="#HNG" fill="#ffff00"/>
<use href="#PRB" fill="#ffff00"/>
<use href="#NND" fill="#9acd32"/>
<use href="#BED" fill="#ffff00"/>
<use href="#LTR" fill="#9acd32"/>
<use href="#DHR" fill="#ffff00"/>
<use href="#SLP" fill="#ffff00"/>
<use href="#GSTR" fill="#ffa500"/>
<use href="#STR" fill="#ffff00"/>
<use href="#SNG" fill="#ffff00"/>
<use href="#GKLP" fill="#ffa500"/>
<use href="#KLP" fill="#ffff00"/>
<use href="#RTN" fill="#ff0000"/>
<use href="#SND" fill="#ffa500"/>
<use href="#JLG2" fill="#ffff00"/>
</g>
<path d="M60.6,98.6L63.5,100.6L66,100.2" stroke="#223" stroke-width="1.1" fill="none"/>
<path d="M357.5,155.2h2.6v2h-2.4v2.4h3" stroke="#111" stroke-width=".9" fill="none"/>
<path d="M32.6,230.6L36.8,229.6L37.6,233.6" stroke="#111" stroke-width="1.6" fill="none"/>
<path d="M141.6,190.4L139.2,191.9L137.6,193.6L135,194.4" stroke="#111" stroke-width="1.7" fill="none"/>
<use href="#iL" x="88.3" y="82.1"/>
<use href="#iL" x="105.1" y="101.6"/>
<use href="#iL" x="144.1" y="112.4"/>
<use href="#iL" x="68.4" y="136.8"/>
<use href="#iL" x="84" y="139.7"/>
<use href="#iC" x="36.1" y="165.1"/>
<use href="#iC" x="50.8" y="188.8"/>
<use href="#iC" x="28.3" y="200.2"/>
<use href="#iC" x="44.9" y="221.6"/>
<use href="#iC" x="67.4" y="207.6"/>
<use href="#iL" x="88.3" y="223.2"/>
<use href="#iL" x="106.1" y="186.5"/>
<use href="#iL" x="134.4" y="150.5"/>
<use href="#iL" x="164.5" y="159.3"/>
<use href="#iL" x="182.9" y="128"/>
<use href="#iL" x="210.2" y="122.1"/>
<use href="#iL" x="218" y="140.7"/>
<use href="#iL" x="233.7" y="97.3"/>
<use href="#iL" x="259.1" y="147.5"/>
<use href="#iL" x="277.5" y="115.7"/>
<use href="#iL" x="299.6" y="102"/>
<use href="#iL" x="327.9" y="100.1"/>
<use href="#iL" x="347.4" y="99.7"/>
<use href="#iL" x="315.2" y="146.6"/>
<use href="#iL" x="349.4" y="161.2"/>
<use href="#iL" x="214.1" y="177.8"/>
<use href="#iL" x="194.6" y="184.5"/>
<use href="#iL" x="234.8" y="191.4"/>
<use href="#iL" x="155.7" y="200.6"/>
<use href="#iL" x="198.1" y="225.2"/>
<use href="#iL" x="166.9" y="234.3"/>
<use href="#iL" x="143.5" y="251.9"/>
<use href="#iC" x="70.3" y="258.8"/>
<use href="#iC" x="95.3" y="261.1"/>
<use href="#iC" x="111.7" y="282.2"/>
<use href="#iC" x="86.9" y="331.4"/>
<use href="#iC" x="85.9" y="310.9"/>
<use href="#iC" x="57.2" y="279.6"/>
<use href="#iC" x="60.5" y="324.6"/>
<text class="lb" x="91.8" y="76.8">NANDURBAR</text>
<text class="lb" x="95.7" y="110.0">DHULE</text>
<text class="lb" x="147.5" y="104.5">JALGAON</text>
<text class="lb" x="73.2" y="131.9">Ghats of NASIK</text>
<text class="lb" x="87.3" y="150.0">NASIK</text>
<text class="lb" x="40" y="155.9">PALGHAR</text>
<text class="lb" x="51.8" y="178.3">THANE</text>
<text class="lb" x="138.7" y="141.8">SAMBHAJINAGAR</text>
<text class="lb" x="114.3" y="177.0">AHILYANAGAR</text>
<text class="lb" x="186.4" y="123.3">BULDHANA</text>
<text class="lb" x="206.9" y="112.9">AKOLA</text>
<text class="lb" x="233.7" y="104.7">AMARAVATI</text>
<text class="lb" x="208.9" y="149.0">WASHIM</text>
<text class="lb" x="172.7" y="168.6">JALNA</text>
<text class="lb" x="213.8" y="168.0">HINGOLI</text>
<text class="lb" x="262.6" y="137.9">YAVATMAL</text>
<text class="lb" x="281" y="124.2">WARDHA</text>
<text class="lb" x="303.5" y="93.4">NAGPUR</text>
<text class="lb" x="331.8" y="109.4">BHANDARA</text>
<text class="lb" x="350.9" y="92.8">GONDIA</text>
<text class="lb" x="318.1" y="141.6">CHANDRAPUR</text>
<text class="lb" x="344.5" y="169.9">GADCHIROLI</text>
<text class="lb" x="14.6" y="189.0">MUMBAI</text>
<text class="lb" x="71.3" y="202.6">Ghats of PUNE</text>
<text class="lb" x="88.9" y="211.8">PUNE</text>
<text class="lb" x="40" y="214.0">RAIGAD</text>
<text class="lb" x="146.4" y="209.1">BEED</text>
<text class="lb" x="199.1" y="192.3">PARBHANI</text>
<text class="lb" x="227" y="200.1">NANDED</text>
<text class="lb" x="171.8" y="228.6">DHARASHIV</text>
<text class="lb" x="188.8" y="233.9">LATUR</text>
<text class="lb" x="150.9" y="260.6">SHOLAPUR</text>
<text class="lb" x="94.3" y="248.1">SATARA</text>
<text class="lb" x="85.9" y="253.4">Ghats of SATARA</text>
<text class="lb" x="52" y="273.5">RATNAGIRI</text>
<text class="lb" x="103.1" y="290.6">SANGLI</text>
<text class="lb" x="103.1" y="304.0">KOLHAPUR</text>
<text class="lb" x="55.7" y="317.3">SINDHUDURG</text>
<text class="lb" x="116.8" y="339.8">Ghats of KOLHAPUR</text>
<rect class="ax" x="2.2" y="45.3" width="393.6" height="320.09999999999997"/>
<path class="ax" d="M78.4,365.4v2.4M165.5,365.4v2.4M252.6,365.4v2.4M339.7,365.4v2.4M2.2,332.2h-2.4M2.2,287.1h-2.4M2.2,242.0h-2.4M2.2,197.0h-2.4M2.2,151.9h-2.4M2.2,106.9h-2.4M2.2,61.8h-2.4"/>
<text class="tk" text-anchor="middle" x="78.6" y="377" textLength="9.4" lengthAdjust="spacingAndGlyphs">74</text>
<text class="tk" text-anchor="middle" x="165.7" y="377" textLength="9.4" lengthAdjust="spacingAndGlyphs">76</text>
<text class="tk" text-anchor="middle" x="252.8" y="377" textLength="9.4" lengthAdjust="spacingAndGlyphs">78</text>
<text class="tk" text-anchor="middle" x="339.9" y="377" textLength="9.4" lengthAdjust="spacingAndGlyphs">80</text>
<text class="tk" text-anchor="end" x="-4.5" y="334.9" textLength="9.8" lengthAdjust="spacingAndGlyphs">16</text>
<text class="tk" text-anchor="end" x="-4.5" y="289.8" textLength="9.8" lengthAdjust="spacingAndGlyphs">17</text>
<text class="tk" text-anchor="end" x="-4.5" y="244.7" textLength="9.8" lengthAdjust="spacingAndGlyphs">18</text>
<text class="tk" text-anchor="end" x="-4.5" y="199.7" textLength="9.8" lengthAdjust="spacingAndGlyphs">19</text>
<text class="tk" text-anchor="end" x="-4.5" y="154.6" textLength="9.8" lengthAdjust="spacingAndGlyphs">20</text>
<text class="tk" text-anchor="end" x="-4.5" y="109.6" textLength="9.8" lengthAdjust="spacingAndGlyphs">21</text>
<text class="tk" text-anchor="end" x="-4.5" y="64.5" textLength="9.8" lengthAdjust="spacingAndGlyphs">22</text>
<text class="t" x="198.9" y="27.7" textLength="105" lengthAdjust="spacingAndGlyphs">WARNING DAY 2</text>
<text class="t" x="198.6" y="40.8" textLength="123.3" lengthAdjust="spacingAndGlyphs">Friday, 23-05-2025</text>
<rect x="217.2" y="262.2" width="20.2" height="12.5" fill="#ff0000" stroke="#111" stroke-width=".8"/>
<text class="lg" x="243.2" y="271.4" textLength="85" lengthAdjust="spacingAndGlyphs">Warning (Take Action)</text>
<rect x="217.2" y="286.0" width="20.2" height="12.5" fill="#ffa500" stroke="#111" stroke-width=".8"/>
<text class="lg" x="243.2" y="295.2" textLength="132.3" lengthAdjust="spacingAndGlyphs">Alert (Be Prepared To Take Action)</text>
<rect x="217.2" y="309.7" width="20.2" height="12.5" fill="#ffff00" stroke="#111" stroke-width=".8"/>
<text class="lg" x="243.2" y="318.9" textLength="69.5" lengthAdjust="spacingAndGlyphs">Watch (Be Aware)</text>
<rect x="217.2" y="333.5" width="20.2" height="12.5" fill="#9acd32" stroke="#111" stroke-width=".8"/>
<text class="lg" x="243.2" y="342.7" textLength="91" lengthAdjust="spacingAndGlyphs">No Warning (No Action)</text>
</g>
<g transform="translate(0,373)">
<g class="d">
<use href="#NDB" fill="#ffff00"/>
<use href="#DHL" fill="#ffff00"/>
<use href="#JLG" fill="#ffff00"/>
<use href="#GNSK" fill="#ffff00"/>
<use href="#NSK" fill="#ffff00"/>
<use href="#PLG" fill="#ffa500"/>
<use href="#THN" fill="#ffa500"/>
<use href="#MUM" fill="#ffa500"/>
<use href="#RGD" fill="#ffa500"/>
<use href="#GPUN" fill="#ffa500"/>
<use href="#PUN" fill="#ffff00"/>
<use href="#AHM" fill="#ffff00"/>
<use href="#SMB" fill="#ffff00"/>
<use href="#JLN" fill="#9acd32"/>
<use href="#BLD" fill="#ffa500"/>
<use href="#AKL" fill="#ffa500"/>
<use href="#WSM" fill="#ffff00"/>
<use href="#AMR" fill="#ffff00"/>
<use href="#YVT" fill="#ffff00"/>
<use href="#WRD" fill="#ffff00"/>
<use href="#NGP" fill="#ffff00"/>
<use href="#BHN" fill="#ffff00"/>
<use href="#GND" fill="#ffff00"/>
<use href="#CHN" fill="#ffff00"/>
<use href="#GDC" fill="#ffff00"/>
<use href="#HNG" fill="#9acd32"/>
<use href="#PRB" fill="#9acd32"/>
<use href="#NND" fill="#9acd32"/>
<use href="#BED" fill="#ffff00"/>
<use href="#LTR" fill="#9acd32"/>
<use href="#DHR" fill="#ffff00"/>
<use href="#SLP" fill="#ffff00"/>
<use href="#GSTR" fill="#ffa500"/>
<use href="#STR" fill="#9acd32"/>
<use href="#SNG" fill="#9acd32"/>
<use href="#GKLP" fill="#ffff00"/>
<use href="#KLP" fill="#9acd32"/>
<use href="#RTN" fill="#ffa500"/>
<use href="#SND" fill="#ffa500"/>
<use href="#JLG2" fill="#ffff00"/>
</g>
<path d="M60.6,98.6L63.5,100.6L66,100.2" stroke="#223" stroke-width="1.1" fill="none"/>
<path d="M357.5,155.2h2.6v2h-2.4v2.4h3" stroke="#111" stroke-width=".9" fill="none"/>
<path d="M32.6,230.6L36.8,229.6L37.6,233.6" stroke="#111" stroke-width="1.6" fill="none"/>
<path d="M141.6,190.4L139.2,191.9L137.6,193.6L135,194.4" stroke="#111" stroke-width="1.7" fill="none"/>
<use href="#iL" x="88.3" y="82.1"/>
<use href="#iL" x="105.1" y="101.6"/>
<use href="#iL" x="144.1" y="112.4"/>
<use href="#iC" x="68.4" y="136.8"/>
<use href="#iL" x="84" y="139.7"/>
<use href="#iC" x="36.1" y="165.1"/>
<use href="#iC" x="50.8" y="188.8"/>
<use href="#iC" x="28.3" y="200.2"/>
<use href="#iC" x="44.9" y="221.6"/>
<use href="#iC" x="67.4" y="207.6"/>
<use href="#iL" x="88.3" y="223.2"/>
<use href="#iL" x="106.1" y="186.5"/>
<use href="#iL" x="134.4" y="150.5"/>
<use href="#iL" x="164.5" y="159.3"/>
<use href="#iC" x="182.9" y="128"/>
<use href="#iC" x="210.2" y="122.1"/>
<use href="#iL" x="218" y="140.7"/>
<use href="#iL" x="233.7" y="97.3"/>
<use href="#iL" x="259.1" y="147.5"/>
<use href="#iL" x="277.5" y="115.7"/>
<use href="#iL" x="299.6" y="102"/>
<use href="#iL" x="327.9" y="100.1"/>
<use href="#iL" x="347.4" y="99.7"/>
<use href="#iL" x="315.2" y="146.6"/>
<use href="#iL" x="349.4" y="161.2"/>
<use href="#iL" x="214.1" y="177.8"/>
<use href="#iL" x="194.6" y="184.5"/>
<use href="#iL" x="234.8" y="191.4"/>
<use href="#iL" x="155.7" y="200.6"/>
<use href="#iL" x="198.1" y="225.2"/>
<use href="#iL" x="166.9" y="234.3"/>
<use href="#iL" x="143.5" y="251.9"/>
<use href="#iC" x="70.3" y="258.8"/>
<use href="#iC" x="86.9" y="331.4"/>
<use href="#iC" x="57.2" y="279.6"/>
<use href="#iC" x="60.5" y="324.6"/>
<text class="lb" x="91.8" y="76.8">NANDURBAR</text>
<text class="lb" x="95.7" y="110.0">DHULE</text>
<text class="lb" x="147.5" y="104.5">JALGAON</text>
<text class="lb" x="73.2" y="131.9">Ghats of NASIK</text>
<text class="lb" x="87.3" y="150.0">NASIK</text>
<text class="lb" x="40" y="155.9">PALGHAR</text>
<text class="lb" x="51.8" y="178.3">THANE</text>
<text class="lb" x="138.7" y="141.8">SAMBHAJINAGAR</text>
<text class="lb" x="114.3" y="177.0">AHILYANAGAR</text>
<text class="lb" x="186.4" y="123.3">BULDHANA</text>
<text class="lb" x="206.9" y="112.9">AKOLA</text>
<text class="lb" x="233.7" y="104.7">AMARAVATI</text>
<text class="lb" x="208.9" y="149.0">WASHIM</text>
<text class="lb" x="172.7" y="168.6">JALNA</text>
<text class="lb" x="213.8" y="168.0">HINGOLI</text>
<text class="lb" x="262.6" y="137.9">YAVATMAL</text>
<text class="lb" x="281" y="124.2">WARDHA</text>
<text class="lb" x="303.5" y="93.4">NAGPUR</text>
<text class="lb" x="331.8" y="109.4">BHANDARA</text>
<text class="lb" x="350.9" y="92.8">GONDIA</text>
<text class="lb" x="318.1" y="141.6">CHANDRAPUR</text>
<text class="lb" x="344.5" y="169.9">GADCHIROLI</text>
<text class="lb" x="14.6" y="189.0">MUMBAI</text>
<text class="lb" x="71.3" y="202.6">Ghats of PUNE</text>
<text class="lb" x="88.9" y="211.8">PUNE</text>
<text class="lb" x="40" y="214.0">RAIGAD</text>
<text class="lb" x="146.4" y="209.1">BEED</text>
<text class="lb" x="199.1" y="192.3">PARBHANI</text>
<text class="lb" x="227" y="200.1">NANDED</text>
<text class="lb" x="171.8" y="228.6">DHARASHIV</text>
<text class="lb" x="188.8" y="233.9">LATUR</text>
<text class="lb" x="150.9" y="260.6">SHOLAPUR</text>
<text class="lb" x="94.3" y="248.1">SATARA</text>
<text class="lb" x="85.9" y="253.4">Ghats of SATARA</text>
<text class="lb" x="52" y="273.5">RATNAGIRI</text>
<text class="lb" x="103.1" y="290.6">SANGLI</text>
<text class="lb" x="103.1" y="304.0">KOLHAPUR</text>
<text class="lb" x="55.7" y="317.3">SINDHUDURG</text>
<text class="lb" x="116.8" y="339.8">Ghats of KOLHAPUR</text>
<rect class="ax" x="2.2" y="45.3" width="393.6" height="320.09999999999997"/>
<path class="ax" d="M78.4,365.4v2.4M165.5,365.4v2.4M252.6,365.4v2.4M339.7,365.4v2.4M2.2,332.2h-2.4M2.2,287.1h-2.4M2.2,242.0h-2.4M2.2,197.0h-2.4M2.2,151.9h-2.4M2.2,106.9h-2.4M2.2,61.8h-2.4"/>
<text class="tk" text-anchor="middle" x="78.6" y="377" textLength="9.4" lengthAdjust="spacingAndGlyphs">74</text>
<text class="tk" text-anchor="middle" x="165.7" y="377" textLength="9.4" lengthAdjust="spacingAndGlyphs">76</text>
<text class="tk" text-anchor="middle" x="252.8" y="377" textLength="9.4" lengthAdjust="spacingAndGlyphs">78</text>
<text class="tk" text-anchor="middle" x="339.9" y="377" textLength="9.4" lengthAdjust="spacingAndGlyphs">80</text>
<text class="tk" text-anchor="end" x="-4.5" y="334.9" textLength="9.8" lengthAdjust="spacingAndGlyphs">16</text>
<text class="tk" text-anchor="end" x="-4.5" y="289.8" textLength="9.8" lengthAdjust="spacingAndGlyphs">17</text>
<text class="tk" text-anchor="end" x="-4.5" y="244.7" textLength="9.8" lengthAdjust="spacingAndGlyphs">18</text>
<text class="tk" text-anchor="end" x="-4.5" y="199.7" textLength="9.8" lengthAdjust="spacingAndGlyphs">19</text>
<text class="tk" text-anchor="end" x="-4.5" y="154.6" textLength="9.8" lengthAdjust="spacingAndGlyphs">20</text>
<text class="tk" text-anchor="end" x="-4.5" y="109.6" textLength="9.8" lengthAdjust="spacingAndGlyphs">21</text>
<text class="tk" text-anchor="end" x="-4.5" y="64.5" textLength="9.8" lengthAdjust="spacingAndGlyphs">22</text>
<text class="t" x="198.9" y="27.7" textLength="105" lengthAdjust="spacingAndGlyphs">WARNING DAY 3</text>
<text class="t" x="198.6" y="40.8" textLength="142.3" lengthAdjust="spacingAndGlyphs">Saturday, 24-05-2025</text>
<rect x="217.2" y="262.2" width="20.2" height="12.5" fill="#ff0000" stroke="#111" stroke-width=".8"/>
<text class="lg" x="243.2" y="271.4" textLength="85" lengthAdjust="spacingAndGlyphs">Warning (Take Action)</text>
<rect x="217.2" y="286.0" width="20.2" height="12.5" fill="#ffa500" stroke="#111" stroke-width=".8"/>
<text class="lg" x="243.2" y="295.2" textLength="132.3" lengthAdjust="spacingAndGlyphs">Alert (Be Prepared To Take Action)</text>
<rect x="217.2" y="309.7" width="20.2" height="12.5" fill="#ffff00" stroke="#111" stroke-width=".8"/>
<text class="lg" x="243.2" y="318.9" textLength="69.5" lengthAdjust="spacingAndGlyphs">Watch (Be Aware)</text>
<rect x="217.2" y="333.5" width="20.2" height="12.5" fill="#9acd32" stroke="#111" stroke-width=".8"/>
<text class="lg" x="243.2" y="342.7" textLength="91" lengthAdjust="spacingAndGlyphs">No Warning (No Action)</text>
</g>
<g transform="translate(418,373)">
<g class="d">
<use href="#NDB" fill="#9acd32"/>
<use href="#DHL" fill="#9acd32"/>
<use href="#JLG" fill="#9acd32"/>
<use href="#GNSK" fill="#ffff00"/>
<use href="#NSK" fill="#ffff00"/>
<use href="#PLG" fill="#ffff00"/>
<use href="#THN" fill="#ffff00"/>
<use href="#MUM" fill="#ffff00"/>
<use href="#RGD" fill="#ffa500"/>
<use href="#GPUN" fill="#ffff00"/>
<use href="#PUN" fill="#ffff00"/>
<use href="#AHM" fill="#ffff00"/>
<use href="#SMB" fill="#ffff00"/>
<use href="#JLN" fill="#9acd32"/>
<use href="#BLD" fill="#ffff00"/>
<use href="#AKL" fill="#ffff00"/>
<use href="#WSM" fill="#ffff00"/>
<use href="#AMR" fill="#ffff00"/>
<use href="#YVT" fill="#ffff00"/>
<use href="#WRD" fill="#9acd32"/>
<use href="#NGP" fill="#9acd32"/>
<use href="#BHN" fill="#9acd32"/>
<use href="#GND" fill="#9acd32"/>
<use href="#CHN" fill="#9acd32"/>
<use href="#GDC" fill="#9acd32"/>
<use href="#HNG" fill="#9acd32"/>
<use href="#PRB" fill="#9acd32"/>
<use href="#NND" fill="#9acd32"/>
<use href="#BED" fill="#9acd32"/>
<use href="#LTR" fill="#9acd32"/>
<use href="#DHR" fill="#9acd32"/>
<use href="#SLP" fill="#9acd32"/>
<use href="#GSTR" fill="#ffa500"/>
<use href="#STR" fill="#9acd32"/>
<use href="#SNG" fill="#9acd32"/>
<use href="#GKLP" fill="#9acd32"/>
<use href="#KLP" fill="#9acd32"/>
<use href="#RTN" fill="#ffa500"/>
<use href="#SND" fill="#ffa500"/>
<use href="#JLG2" fill="#9acd32"/>
</g>
<path d="M60.6,98.6L63.5,100.6L66,100.2" stroke="#223" stroke-width="1.1" fill="none"/>
<path d="M357.5,155.2h2.6v2h-2.4v2.4h3" stroke="#111" stroke-width=".9" fill="none"/>
<path d="M32.6,230.6L36.8,229.6L37.6,233.6" stroke="#111" stroke-width="1.6" fill="none"/>
<path d="M141.6,190.4L139.2,191.9L137.6,193.6L135,194.4" stroke="#111" stroke-width="1.7" fill="none"/>
<use href="#iL" x="68.4" y="136.8"/>
<use href="#iL" x="84" y="139.7"/>
<use href="#iL" x="36.1" y="165.1"/>
<use href="#iC" x="50.8" y="188.8"/>
<use href="#iC" x="28.3" y="200.2"/>
<use href="#iC" x="44.9" y="221.6"/>
<use href="#iC" x="67.4" y="207.6"/>
<use href="#iL" x="88.3" y="223.2"/>
<use href="#iL" x="106.1" y="186.5"/>
<use href="#iL" x="134.4" y="150.5"/>
<use href="#iL" x="164.5" y="159.3"/>
<use href="#iL" x="182.9" y="128"/>
<use href="#iL" x="210.2" y="122.1"/>
<use href="#iL" x="218" y="140.7"/>
<use href="#iL" x="233.7" y="97.3"/>
<use href="#iL" x="259.1" y="147.5"/>
<use href="#iL" x="214.1" y="177.8"/>
<use href="#iL" x="194.6" y="184.5"/>
<use href="#iL" x="234.8" y="191.4"/>
<use href="#iL" x="155.7" y="200.6"/>
<use href="#iL" x="198.1" y="225.2"/>
<use href="#iL" x="166.9" y="234.3"/>
<use href="#iL" x="143.5" y="251.9"/>
<use href="#iC" x="70.3" y="258.8"/>
<use href="#iC" x="57.2" y="279.6"/>
<use href="#iC" x="60.5" y="324.6"/>
<text class="lb" x="91.8" y="76.8">NANDURBAR</text>
<text class="lb" x="95.7" y="110.0">DHULE</text>
<text class="lb" x="147.5" y="104.5">JALGAON</text>
<text class="lb" x="73.2" y="131.9">Ghats of NASIK</text>
<text class="lb" x="87.3" y="150.0">NASIK</text>
<text class="lb" x="40" y="155.9">PALGHAR</text>
<text class="lb" x="51.8" y="178.3">THANE</text>
<text class="lb" x="138.7" y="141.8">SAMBHAJINAGAR</text>
<text class="lb" x="114.3" y="177.0">AHILYANAGAR</text>
<text class="lb" x="186.4" y="123.3">BULDHANA</text>
<text class="lb" x="206.9" y="112.9">AKOLA</text>
<text class="lb" x="233.7" y="104.7">AMARAVATI</text>
<text class="lb" x="208.9" y="149.0">WASHIM</text>
<text class="lb" x="172.7" y="168.6">JALNA</text>
<text class="lb" x="213.8" y="168.0">HINGOLI</text>
<text class="lb" x="262.6" y="137.9">YAVATMAL</text>
<text class="lb" x="281" y="124.2">WARDHA</text>
<text class="lb" x="303.5" y="93.4">NAGPUR</text>
<text class="lb" x="331.8" y="109.4">BHANDARA</text>
<text class="lb" x="350.9" y="92.8">GONDIA</text>
<text class="lb" x="318.1" y="141.6">CHANDRAPUR</text>
<text class="lb" x="344.5" y="169.9">GADCHIROLI</text>
<text class="lb" x="14.6" y="189.0">MUMBAI</text>
<text class="lb" x="71.3" y="202.6">Ghats of PUNE</text>
<text class="lb" x="88.9" y="211.8">PUNE</text>
<text class="lb" x="40" y="214.0">RAIGAD</text>
<text class="lb" x="146.4" y="209.1">BEED</text>
<text class="lb" x="199.1" y="192.3">PARBHANI</text>
<text class="lb" x="227" y="200.1">NANDED</text>
<text class="lb" x="171.8" y="228.6">DHARASHIV</text>
<text class="lb" x="188.8" y="233.9">LATUR</text>
<text class="lb" x="150.9" y="260.6">SHOLAPUR</text>
<text class="lb" x="94.3" y="248.1">SATARA</text>
<text class="lb" x="85.9" y="253.4">Ghats of SATARA</text>
<text class="lb" x="52" y="273.5">RATNAGIRI</text>
<text class="lb" x="103.1" y="290.6">SANGLI</text>
<text class="lb" x="103.1" y="304.0">KOLHAPUR</text>
<text class="lb" x="55.7" y="317.3">SINDHUDURG</text>
<text class="lb" x="116.8" y="339.8">Ghats of KOLHAPUR</text>
<rect class="ax" x="2.2" y="45.3" width="393.6" height="320.09999999999997"/>
<path class="ax" d="M78.4,365.4v2.4M165.5,365.4v2.4M252.6,365.4v2.4M339.7,365.4v2.4M2.2,332.2h-2.4M2.2,287.1h-2.4M2.2,242.0h-2.4M2.2,197.0h-2.4M2.2,151.9h-2.4M2.2,106.9h-2.4M2.2,61.8h-2.4"/>
<text class="tk" text-anchor="middle" x="78.6" y="377" textLength="9.4" lengthAdjust="spacingAndGlyphs">74</text>
<text class="tk" text-anchor="middle" x="165.7" y="377" textLength="9.4" lengthAdjust="spacingAndGlyphs">76</text>
<text class="tk" text-anchor="middle" x="252.8" y="377" textLength="9.4" lengthAdjust="spacingAndGlyphs">78</text>
<text class="tk" text-anchor="middle" x="339.9" y="377" textLength="9.4" lengthAdjust="spacingAndGlyphs">80</text>
<text class="tk" text-anchor="end" x="-4.5" y="334.9" textLength="9.8" lengthAdjust="spacingAndGlyphs">16</text>
<text class="tk" text-anchor="end" x="-4.5" y="289.8" textLength="9.8" lengthAdjust="spacingAndGlyphs">17</text>
<text class="tk" text-anchor="end" x="-4.5" y="244.7" textLength="9.8" lengthAdjust="spacingAndGlyphs">18</text>
<text class="tk" text-anchor="end" x="-4.5" y="199.7" textLength="9.8" lengthAdjust="spacingAndGlyphs">19</text>
<text class="tk" text-anchor="end" x="-4.5" y="154.6" textLength="9.8" lengthAdjust="spacingAndGlyphs">20</text>
<text class="tk" text-anchor="end" x="-4.5" y="109.6" textLength="9.8" lengthAdjust="spacingAndGlyphs">21</text>
<text class="tk" text-anchor="end" x="-4.5" y="64.5" textLength="9.8" lengthAdjust="spacingAndGlyphs">22</text>
<text class="t" x="198.9" y="27.7" textLength="105" lengthAdjust="spacingAndGlyphs">WARNING DAY 4</text>
<text class="t" x="198.6" y="40.8" textLength="131" lengthAdjust="spacingAndGlyphs">Sunday, 25-05-2025</text>
<rect x="217.2" y="262.2" width="20.2" height="12.5" fill="#ff0000" stroke="#111" stroke-width=".8"/>
<text class="lg" x="243.2" y="271.4" textLength="85" lengthAdjust="spacingAndGlyphs">Warning (Take Action)</text>
<rect x="217.2" y="286.0" width="20.2" height="12.5" fill="#ffa500" stroke="#111" stroke-width=".8"/>
<text class="lg" x="243.2" y="295.2" textLength="132.3" lengthAdjust="spacingAndGlyphs">Alert (Be Prepared To Take Action)</text>
<rect x="217.2" y="309.7" width="20.2" height="12.5" fill="#ffff00" stroke="#111" stroke-width=".8"/>
<text class="lg" x="243.2" y="318.9" textLength="69.5" lengthAdjust="spacingAndGlyphs">Watch (Be Aware)</text>
<rect x="217.2" y="333.5" width="20.2" height="12.5" fill="#9acd32" stroke="#111" stroke-width=".8"/>
<text class="lg" x="243.2" y="342.7" textLength="91" lengthAdjust="spacingAndGlyphs">No Warning (No Action)</text>
</g>
</svg></body></html>
